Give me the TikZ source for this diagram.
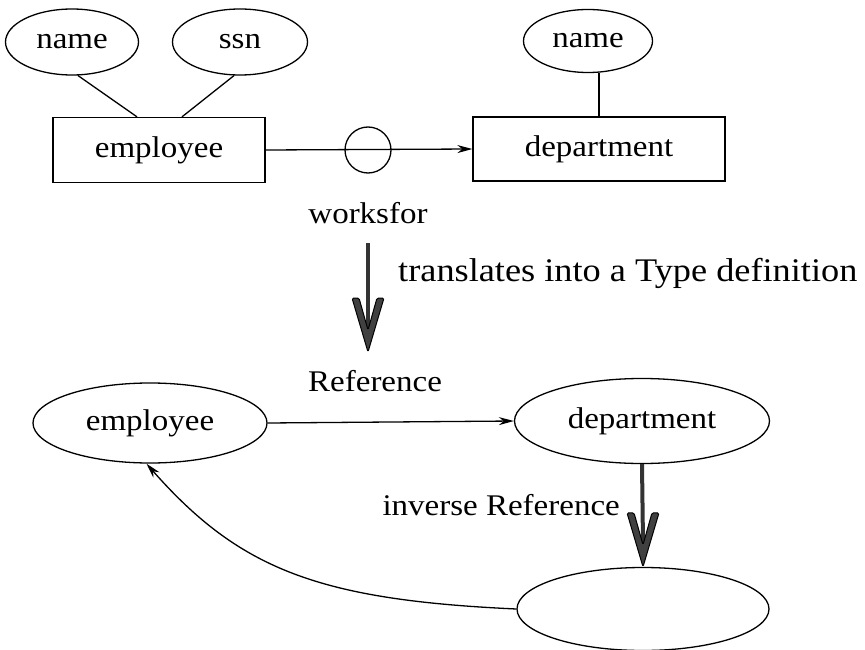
\documentclass[tikz,border=0pt]{standalone}
\usepackage{fontspec}
\setmainfont{Liberation Serif}[FakeStretch=1.1]
\usetikzlibrary{arrows.meta,shapes.geometric,calc}

\tikzset{
  attr/.style={draw,ellipse,line width=1.3pt,minimum width=133pt,minimum height=66pt,inner sep=0pt},
  entity/.style={draw,rectangle,line width=1.3pt,inner sep=0pt},
  obj/.style={draw,ellipse,line width=1.3pt,minimum width=252pt,minimum height=83pt,inner sep=0pt},
  link/.style={line width=1.3pt},
  ref/.style={line width=1.3pt,-{Stealth[length=15pt,width=8pt]}},
  fatline/.style={line width=4pt,black!80},
  fathead/.style={fill=black!75,draw=black,line width=1pt,line join=round,rounded corners=1.5pt},
  lbl/.style={inner sep=0pt}
}

% thick arrow with a notched head, from #1 down to #2
\newcommand{\fatarrow}[2]{%
  \draw[fatline] (#1) -- ($(#2)+(0,24)$);
  \filldraw[fathead] (#2) -- ($(#2)+(-16,54)$) -- ($(#2)+(-9,54)$) -- ($(#2)+(0,22)$)
    -- ($(#2)+(9,54)$) -- ($(#2)+(16,54)$) -- cycle;
}

\begin{document}
\begin{tikzpicture}[x=1pt,y=1pt,font=\fontsize{30}{36}\selectfont]

\useasboundingbox (0,0) rectangle (865,-650);

% ER diagram
\node[attr] (ename) at (72,-42) {name};
\node[attr,minimum width=135pt] (essn) at (240,-42) {ssn};
\node[entity,minimum width=212pt,minimum height=65pt] (emp) at (159,-150) {employee};
\node[draw,circle,line width=1.3pt,minimum size=46pt,inner sep=0pt] (rel) at (368,-150) {};
\node[entity,minimum width=252pt,minimum height=64pt] (dept) at (599,-149) {department};
\node[attr,minimum width=129pt,minimum height=63pt] (dname) at (588,-41) {name};
\node[lbl] (wf) at (368,-213) {worksfor};

\draw[link] (ename.-80) -- (emp.north -| 137,0);
\draw[link] (essn.-100) -- (emp.north -| 182,0);
\draw[link] (dept.north) -- (dept.north |- dname.south);
\draw[ref] (emp.east) -- (dept.west);

% translation
\coordinate (tA) at (368,-243);
\coordinate (tB) at (368,-352);
\fatarrow{tA}{tB}
\node[lbl,anchor=west,font=\fontsize{33}{40}\selectfont] (tr) at (398,-273) {translates into a Type definition};

% type definition
\node[obj,minimum width=234pt,minimum height=80pt] (temp) at (150,-423) {employee};
\node[obj,minimum width=255pt,minimum height=85pt] (tdept) at (642,-421) {department};
\node[obj] (tinv) at (643,-609) {};
\node[lbl,anchor=west] (rlbl) at (308,-381) {Reference};
\node[lbl,anchor=east] (ilbl) at (620,-505) {inverse Reference};

\draw[ref] (temp.east) -- (tdept.west);
\fatarrow{tdept.south}{tinv.north}
\draw[ref] (tinv.west) .. controls (320,-600) and (240,-570) .. (temp.265);

\end{tikzpicture}
\end{document}
